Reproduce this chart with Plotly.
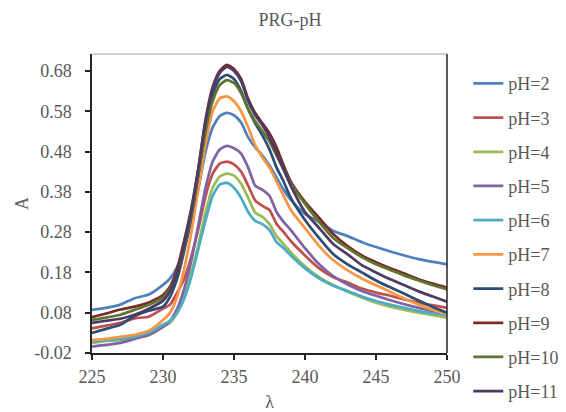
import plotly.graph_objects as go

wavelength = [225, 226, 227, 228, 229, 230, 230.5, 231, 231.5, 232, 232.5, 233, 233.5, 234, 234.5,
              235, 235.5, 236, 236.5, 237, 237.5, 238, 238.5, 239, 240, 241, 242, 243, 244, 245,
              246, 247, 248, 249, 250]

pH2 = [0.087, 0.092, 0.100, 0.116, 0.125, 0.149, 0.165, 0.194, 0.240, 0.310, 0.390, 0.480, 0.540, 0.568, 0.576,
       0.570, 0.552, 0.515, 0.490, 0.470, 0.445, 0.415, 0.385, 0.360, 0.325, 0.305, 0.283, 0.270, 0.255, 0.243,
       0.232, 0.222, 0.213, 0.206, 0.200]
pH3 = [0.041, 0.048, 0.055, 0.066, 0.070, 0.090, 0.100, 0.130, 0.165, 0.220, 0.290, 0.370, 0.425, 0.450, 0.455,
       0.448, 0.430, 0.395, 0.358, 0.345, 0.335, 0.300, 0.280, 0.258, 0.222, 0.190, 0.168, 0.155, 0.140, 0.130,
       0.122, 0.113, 0.105, 0.098, 0.092]
pH4 = [0.005, 0.010, 0.012, 0.018, 0.025, 0.045, 0.055, 0.080, 0.120, 0.180, 0.250, 0.330, 0.390, 0.418, 0.425,
       0.420, 0.400, 0.365, 0.328, 0.318, 0.300, 0.270, 0.250, 0.230, 0.195, 0.168, 0.148, 0.132, 0.118, 0.105,
       0.095, 0.087, 0.080, 0.074, 0.068]
pH5 = [-0.004, 0.000, 0.005, 0.015, 0.025, 0.045, 0.060, 0.090, 0.140, 0.210, 0.300, 0.390, 0.455, 0.485, 0.494,
       0.488, 0.475, 0.440, 0.395, 0.385, 0.370, 0.330, 0.305, 0.285, 0.240, 0.200, 0.170, 0.150, 0.134, 0.122,
       0.111, 0.101, 0.092, 0.084, 0.077]
pH6 = [0.008, 0.012, 0.015, 0.020, 0.030, 0.050, 0.060, 0.080, 0.115, 0.170, 0.240, 0.310, 0.370, 0.398, 0.402,
       0.390, 0.365, 0.330, 0.308, 0.300, 0.285, 0.255, 0.240, 0.222, 0.190, 0.165, 0.147, 0.134, 0.120, 0.109,
       0.100, 0.092, 0.084, 0.078, 0.074]
pH7 = [0.012, 0.015, 0.020, 0.025, 0.035, 0.062, 0.080, 0.120, 0.190, 0.280, 0.390, 0.500, 0.580, 0.612, 0.617,
       0.605, 0.580, 0.540, 0.495, 0.465, 0.440, 0.405, 0.370, 0.335, 0.290, 0.245, 0.210, 0.185, 0.165, 0.148,
       0.132, 0.115, 0.100, 0.087, 0.077]
pH8 = [0.030, 0.040, 0.050, 0.072, 0.085, 0.095, 0.120, 0.165, 0.235, 0.320, 0.425, 0.540, 0.620, 0.660, 0.670,
       0.660, 0.630, 0.585, 0.550, 0.520, 0.485, 0.440, 0.405, 0.365, 0.310, 0.265, 0.225, 0.200, 0.180, 0.160,
       0.143, 0.127, 0.110, 0.094, 0.080]
pH9 = [0.069, 0.078, 0.088, 0.095, 0.105, 0.124, 0.145, 0.190, 0.260, 0.340, 0.440, 0.560, 0.640, 0.680, 0.695,
       0.685, 0.660, 0.610, 0.575, 0.550, 0.525, 0.490, 0.445, 0.405, 0.355, 0.315, 0.275, 0.245, 0.222, 0.205,
       0.190, 0.177, 0.163, 0.152, 0.142]
pH10 = [0.062, 0.068, 0.075, 0.087, 0.100, 0.118, 0.140, 0.180, 0.245, 0.325, 0.425, 0.530, 0.605, 0.645, 0.657,
        0.650, 0.625, 0.585, 0.555, 0.530, 0.505, 0.470, 0.435, 0.400, 0.350, 0.305, 0.265, 0.240, 0.218, 0.200,
        0.186, 0.172, 0.160, 0.148, 0.138]
pH11 = [0.055, 0.060, 0.065, 0.075, 0.090, 0.110, 0.135, 0.180, 0.250, 0.335, 0.440, 0.555, 0.635, 0.675, 0.690,
        0.680, 0.655, 0.605, 0.570, 0.545, 0.515, 0.475, 0.435, 0.395, 0.330, 0.290, 0.250, 0.225, 0.198, 0.180,
        0.163, 0.148, 0.133, 0.120, 0.107]

series_names = ["pH=2", "pH=3", "pH=4", "pH=5", "pH=6", "pH=7", "pH=8", "pH=9", "pH=10", "pH=11"]
series_values = [pH2, pH3, pH4, pH5, pH6, pH7, pH8, pH9, pH10, pH11]
colors = ["#4F81BD", "#C0504D", "#9BBB59", "#8064A2", "#4BACC6", "#F79646",
          "#2C4D75", "#772C2A", "#5F7530", "#4D3B62"]

y_ticks = [-0.02, 0.08, 0.18, 0.28, 0.38, 0.48, 0.58, 0.68]
x_ticks = [225, 230, 235, 240, 245, 250]

font_family = "Liberation Serif, Times New Roman, serif"
gray = "#595959"

fig = go.Figure()
for name, vals, col in zip(series_names, series_values, colors):
    fig.add_trace(go.Scatter(x=wavelength, y=vals, mode="lines", name=name, legendgroup=name,
                             line=dict(color=col, width=2.75, shape="spline", smoothing=0.6)))

fig.update_layout(
    width=566, height=412,
    margin=dict(l=84, r=127, t=46, b=67, autoexpand=False),
    paper_bgcolor="white", plot_bgcolor="white",
    font=dict(family=font_family, color=gray, size=18),
    title=dict(text="PRG-pH", x=282 / 566, xanchor="center", y=1 - 12 / 412, yanchor="middle",
               font=dict(family=font_family, size=18, color=gray)),
    showlegend=True,
    legend=dict(x=1.06, xanchor="left", y=0.9626, yanchor="top", traceorder="grouped",
                tracegroupgap=7.8, maxheight=395, font=dict(family=font_family, size=18, color=gray),
                bgcolor="rgba(0,0,0,0)"),
    xaxis=dict(range=[225, 250], tickvals=x_ticks, ticktext=[str(v) for v in x_ticks],
               automargin=False,
               showgrid=False, zeroline=False, showline=True, linecolor="#262626", linewidth=1.5,
               ticks="outside", ticklen=5, tickcolor="#262626", tickwidth=1.5, ticklabelstandoff=2,
               tickfont=dict(family=font_family, size=18, color=gray),
               title=dict(text="λ", font=dict(family=font_family, size=18, color=gray), standoff=9)),
    yaxis=dict(range=[-0.02, 0.722], tickvals=y_ticks, ticktext=[f"{v:.2f}" for v in y_ticks],
               automargin=False,
               showgrid=False, zeroline=False, showline=True, linecolor="#262626", linewidth=1.5,
               ticks="outside", ticklen=5, tickcolor="#262626", tickwidth=1.5, ticklabelstandoff=10,
               tickfont=dict(family=font_family, size=18, color=gray),
               title=dict(text="A", font=dict(family=font_family, size=18, color=gray), standoff=1)),
)
# plot-area frame (top light gray, right dark)
fig.add_shape(type="line", xref="paper", yref="paper", x0=0, x1=1, y0=1, y1=1,
              line=dict(color="#A6A6A6", width=1.2))
fig.add_shape(type="line", xref="paper", yref="paper", x0=1, x1=1, y0=0, y1=1,
              line=dict(color="#262626", width=1.5))

fig.write_html("out.html")
